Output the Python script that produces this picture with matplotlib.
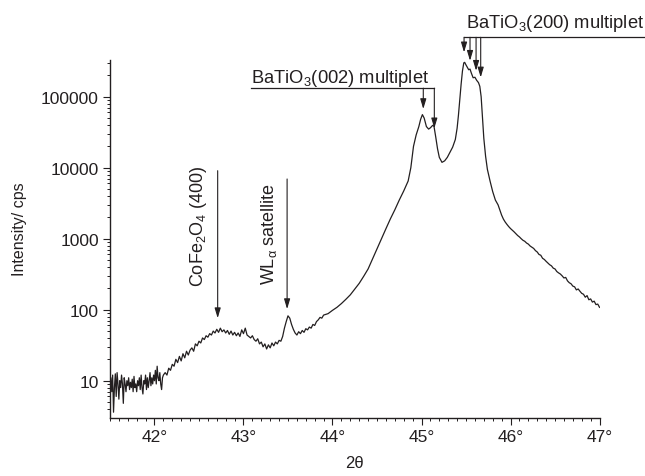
import matplotlib.pyplot as plt
import numpy as np
from matplotlib.ticker import FuncFormatter, LogLocator, MultipleLocator, NullFormatter

plt.rcParams['font.family'] = ['Liberation Sans', 'DejaVu Sans']
plt.rcParams['mathtext.default'] = 'regular'

# noisy start of the scan, 41.50-42.10 deg, 0.01 deg steps
scan_a_start, scan_a_step = 41.50, 0.01
scan_a_cps = [9, 11, 7, 12, 3.6, 8, 12.5, 6, 13, 9,
              5.5, 10, 8, 12, 9, 4.8, 11, 9, 7, 10,
              8.5, 11, 7.5, 9.5, 8, 10.5, 7, 11.5, 8, 9,
              7, 10, 8.5, 11, 7.5, 12, 8, 6.5, 10, 9,
              12, 7.5, 11, 8, 10, 13, 8.5, 11, 9, 12,
              10, 14, 9, 16, 11, 10, 13, 9, 7.5, 11, 12]

# CoFe2O4 hump and W L-alpha line, 42.12-43.90 deg, 0.02 deg steps
scan_b_start, scan_b_step = 42.12, 0.02
scan_b_cps = [13, 12, 15, 14, 17, 16, 20, 18, 22, 19,
              24, 21, 26, 23, 27, 29, 26, 33, 31, 36,
              34, 40, 38, 43, 41, 46, 44, 50, 47, 53,
              48, 55, 49, 52, 47, 51, 45, 50, 44, 48,
              43, 47, 42, 52, 46, 55, 44, 42, 40, 43,
              38, 36, 39, 33, 35, 30, 33, 28, 32, 29,
              34, 31, 35, 33, 37, 36, 42, 55, 68, 82,
              76, 62, 53, 47, 44, 49, 46, 51, 48, 54,
              52, 57, 55, 62, 60, 68, 72, 78, 76, 84]

# BaTiO3 (002)/(200) region
peak_2theta = [43.95, 44.00, 44.05, 44.10, 44.15, 44.20, 44.25, 44.30, 44.35, 44.40,
               44.45, 44.50, 44.55, 44.60, 44.65, 44.70, 44.75, 44.80, 44.85, 44.88,
               44.91, 44.94, 44.97, 44.99, 45.01, 45.03, 45.055, 45.08, 45.10, 45.125,
               45.14, 45.16, 45.18, 45.20, 45.23, 45.26, 45.29, 45.32, 45.35, 45.38,
               45.40, 45.415, 45.43, 45.445, 45.46, 45.475, 45.485, 45.50, 45.515, 45.53,
               45.545, 45.56, 45.58, 45.60, 45.62, 45.64, 45.655, 45.67, 45.685, 45.70,
               45.72, 45.74, 45.77, 45.80, 45.83]
peak_cps = [88, 98, 108, 122, 140, 162, 195, 235, 295, 375,
            520, 720, 1000, 1380, 1900, 2550, 3500, 4700, 6500, 10000,
            20000, 29000, 38000, 48000, 56000, 50000, 38000, 35000, 36500, 39500,
            38500, 27000, 18500, 14000, 11900, 12500, 14000, 16500, 19500, 25000,
            36000, 55000, 90000, 150000, 230000, 300000, 305000, 280000, 260000, 240000,
            245000, 215000, 185000, 188000, 170000, 158000, 140000, 100000, 50000, 26000,
            14500, 9500, 6500, 4600, 3500]

# high-angle tail, 45.86-47.00 deg, 0.02 deg steps
scan_d_start, scan_d_step = 45.86, 0.02
scan_d_cps = [3000, 2550, 2150, 1890, 1720, 1590, 1480, 1390, 1320, 1250,
              1180, 1110, 1060, 1000, 950, 920, 870, 840, 790, 760,
              730, 680, 650, 600, 585, 530, 510, 480, 455, 430,
              415, 385, 375, 345, 330, 318, 300, 280, 285, 255,
              240, 232, 215, 210, 190, 196, 182, 170, 165, 150,
              158, 138, 142, 128, 132, 118, 120, 108]

# annotation anchors (2theta, cps)
cofe_x, cofe_top, cofe_tip, cofe_text_x, cofe_text_y = 42.71, 9080, 76, 42.50, 216
wl_x, wl_top, wl_tip, wl_text_x, wl_text_y = 43.49, 6940, 102, 43.29, 232
bto002_x = [45.02, 45.144]
bto002_tips = [67100, 35900]
bto002_bar = (43.09, 45.144, 1.32e5)
bto200_x = [45.478, 45.545, 45.613, 45.665]
bto200_tips = [4.22e5, 3.21e5, 2.32e5, 1.87e5]
bto200_bar = (45.478, 47.51, 6.87e5)

two_theta = np.concatenate([
    scan_a_start + scan_a_step * np.arange(len(scan_a_cps)),
    scan_b_start + scan_b_step * np.arange(len(scan_b_cps)),
    np.array(peak_2theta),
    scan_d_start + scan_d_step * np.arange(len(scan_d_cps)),
])
intensity = np.concatenate([scan_a_cps, scan_b_cps, peak_cps, scan_d_cps])

ink = '#231f20'
fig = plt.figure(figsize=(6.45, 4.77), dpi=100)
ax = fig.add_axes([0.1705, 0.1226, 0.759, 0.7497])
ax.plot(two_theta, intensity, color=ink, lw=0.9)

ax.set_yscale('log')
ax.set_xlim(41.5, 47.0)
ax.set_ylim(3.03, 3.3e5)
for side in ('top', 'right'):
    ax.spines[side].set_visible(False)
for side in ('left', 'bottom'):
    ax.spines[side].set_linewidth(1.0)
    ax.spines[side].set_color(ink)

ax.xaxis.set_major_locator(MultipleLocator(1))
ax.xaxis.set_minor_locator(MultipleLocator(0.1))
ax.xaxis.set_major_formatter(FuncFormatter(lambda v, _: f'{v:g}°'))
ax.yaxis.set_major_locator(LogLocator(base=10, numticks=10))
ax.yaxis.set_minor_locator(LogLocator(base=10, subs=np.arange(2, 10), numticks=20))
ax.yaxis.set_major_formatter(FuncFormatter(lambda v, _: f'{int(round(v))}'))
ax.yaxis.set_minor_formatter(NullFormatter())
ax.tick_params(which='major', direction='out', length=5, width=0.8, color=ink,
               labelsize=12.5, labelcolor=ink, pad=3)
ax.tick_params(which='minor', direction='out', length=2.5, width=0.7, color=ink)

ax.set_xlabel('2θ', fontsize=12, color=ink)
ax.xaxis.set_label_coords(0.5, -0.105)
ax.set_ylabel('Intensity/ cps', fontsize=11.5, color=ink)
ax.yaxis.set_label_coords(-0.17, 0.53)

arrow = dict(arrowstyle='-|>,head_length=0.6,head_width=0.18', color=ink, lw=0.8,
             shrinkA=0, shrinkB=0, mutation_scale=10)


def down_arrow(x, top, tip):
    ax.annotate('', xy=(x, tip), xytext=(x, top), arrowprops=arrow,
                annotation_clip=False)


down_arrow(cofe_x, cofe_top, cofe_tip)
ax.text(cofe_text_x, cofe_text_y, 'CoFe$_2$O$_4$ (400)', rotation=90, ha='center',
        va='bottom', fontsize=13, color=ink)
down_arrow(wl_x, wl_top, wl_tip)
ax.text(wl_text_x, wl_text_y, r'WL$_\alpha$ satellite', rotation=90, ha='center',
        va='bottom', fontsize=13, color=ink)

x0, x1, y_bar = bto002_bar
ax.plot([x0, x1], [y_bar, y_bar], color=ink, lw=0.9, clip_on=False)
for x, tip in zip(bto002_x, bto002_tips):
    down_arrow(x, y_bar, tip)
ax.text(x0, y_bar * 1.23, 'BaTiO$_3$(002) multiplet', ha='left', va='baseline',
        fontsize=13.2, color=ink)

x0, x1, y_bar = bto200_bar
ax.plot([x0, x1], [y_bar, y_bar], color=ink, lw=0.9, clip_on=False)
for x, tip in zip(bto200_x, bto200_tips):
    down_arrow(x, y_bar, tip)
ax.text(45.505, y_bar * 1.38, 'BaTiO$_3$(200) multiplet', ha='left', va='baseline',
        fontsize=13.2, color=ink)

fig.savefig('out.png', dpi=100)
